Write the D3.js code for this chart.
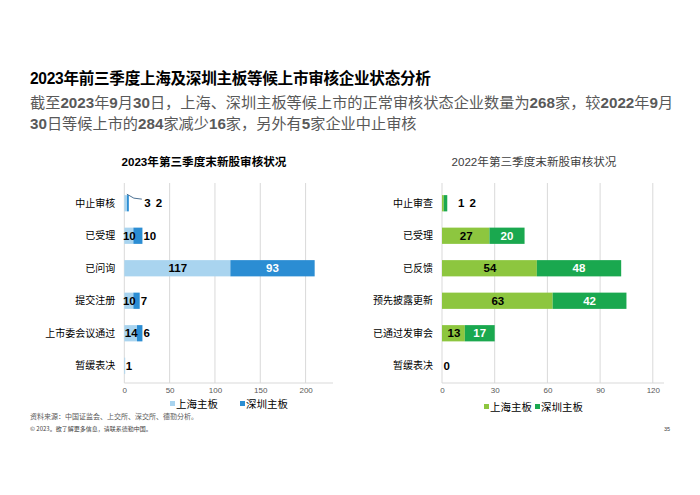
<!DOCTYPE html>
<html><head><meta charset="utf-8">
<script src="https://cdn.jsdelivr.net/npm/d3@7"></script>
<style>
html,body{margin:0;padding:0;background:#fff;}
svg text{font-family:"Liberation Sans","Noto Sans CJK SC",sans-serif;}
</style></head>
<body>
<svg id="chart" width="700" height="495"></svg>
<script>
const title = "2023年前三季度上海及深圳主板等候上市审核企业状态分析";
const subtitleLines = [
  [["截至",0],["2023",1],["年",0],["9",1],["月",0],["30",1],["日，上海、深圳主板等候上市的正常审核状态企业数量为",0],["268",1],["家，较",0],["2022",1],["年",0],["9",1],["月",0]],
  [["30",1],["日等候上市的",0],["284",1],["家减少",0],["16",1],["家，另外有",0],["5",1],["家企业中止审核",0]]
];
const seriesNames = ["上海主板","深圳主板"];

const chartTitle2023 = "2023年第三季度末新股审核状况";
const cats2023 = ["中止审核","已受理","已问询","提交注册","上市委会议通过","暂缓表决"];
const sh2023 = [3,10,117,10,14,1];
const sz2023 = [2,10,93,7,6,0];
const ticks2023 = [0,50,100,150,200];

const chartTitle2022 = "2022年第三季度末新股审核状况";
const cats2022 = ["中止审查","已受理","已反馈","预先披露更新","已通过发审会","暂缓表决"];
const sh2022 = [1,27,54,63,13,0];
const sz2022 = [2,20,48,42,17,0];
const ticks2022 = [0,30,60,90,120];

const source = "资料来源：中国证监会、上交所、深交所、德勤分析。";
const copyright = "© 2023。欲了解更多信息，请联系德勤中国。";
const pageNo = "35";

const svg = d3.select("#chart");
const cjk = '"Noto Sans CJK SC",sans-serif';

svg.append("text").attr("x",30).attr("y",84).attr("font-size",15.6).attr("font-weight","bold")
  .attr("fill","#000").attr("letter-spacing",-0.3).text(title);

subtitleLines.forEach((line,i)=>{
  let cx = 30;
  const yy = 108+i*21;
  line.forEach(([s,b])=>{
    const t = svg.append("text").attr("x",cx).attr("y",yy).attr("font-size",15.2)
      .attr("fill","#595959").attr("font-weight",b?"bold":"normal")
      .style("font-family", b?'"Liberation Sans",sans-serif':cjk).text(s);
    cx += t.node().getComputedTextLength();
  });
});

function drawChart(cfg){
  const {x0,x1,axisEnd,top,bottom,bandTop,bandBottom,cats,sh,sz,ticks,cLight,cDark,ttl,ttlX,ttlBold,ttlColor,legend,leader,smallOff} = cfg;
  const g = svg.append("g");
  const x = d3.scaleLinear().domain([0,ticks[ticks.length-1]]).range([x0,x1]);
  const y = d3.scaleBand().domain(cats).range([bandTop,bandBottom]).paddingInner(0.5).paddingOuter(0.25);

  g.append("text").attr("x",ttlX).attr("y",166).attr("text-anchor","middle").attr("font-size",11.6)
   .attr("font-weight",ttlBold?"bold":"normal").attr("fill",ttlColor).text(ttl);

  g.selectAll("line.grid").data(ticks).join("line").attr("class","grid")
    .attr("x1",d=>x(d)).attr("x2",d=>x(d)).attr("y1",top).attr("y2",bottom)
    .attr("stroke","#d9d9d9").attr("stroke-width",1);
  g.append("line").attr("x1",x0).attr("x2",axisEnd).attr("y1",bottom).attr("y2",bottom)
    .attr("stroke","#d9d9d9");

  const axis = d3.axisBottom(x).tickValues(ticks).tickSize(0).tickPadding(4);
  const ax = g.append("g").attr("transform",`translate(0,${bottom})`).call(axis);
  ax.select(".domain").remove();
  ax.selectAll("text").attr("font-size",8).attr("fill","#595959").style("font-family",'"Liberation Sans",sans-serif');

  g.selectAll("text.cat").data(cats).join("text").attr("class","cat")
    .attr("x",x0-9).attr("y",d=>y(d)+y.bandwidth()/2).attr("dy","0.35em")
    .attr("text-anchor","end").attr("font-size",10).attr("fill","#000").style("font-family",cjk).text(d=>d);

  const rows = cats.map((c,i)=>({c,a:sh[i],b:sz[i]}));
  g.selectAll("rect.a").data(rows).join("rect").attr("class","a")
    .attr("x",x(0)).attr("y",d=>y(d.c)).attr("height",y.bandwidth())
    .attr("width",d=>x(d.a)-x(0)).attr("fill",cLight);
  g.selectAll("rect.b").data(rows).join("rect").attr("class","b")
    .attr("x",d=>x(d.a)).attr("y",d=>y(d.c)).attr("height",y.bandwidth())
    .attr("width",d=>x(d.a+d.b)-x(d.a)).attr("fill",cDark);

  const lab = (xx,yy,txt,fill,anchor)=>g.append("text").attr("x",xx).attr("y",yy).attr("dy","0.36em")
    .attr("text-anchor",anchor).attr("font-size",11.5).attr("font-weight","bold").attr("fill",fill)
    .style("font-family",'"Liberation Sans",sans-serif').text(txt);

  rows.forEach((d,i)=>{
    const cy = y(d.c)+y.bandwidth()/2;
    const end = x(d.a+d.b);
    if (i===0){
      if (leader){
        g.append("path").attr("d",`M${end-2},${y(d.c)-1} L${end+5},${y(d.c)+3} L${end+13},${y(d.c)+4}`)
          .attr("fill","none").attr("stroke","#1f4e79").attr("stroke-width",0.8);
      }
      lab(end+smallOff, cy, d.a, "#000","middle");
      lab(end+smallOff+11.5, cy, d.b, "#000","middle");
      return;
    }
    if (d.a+d.b<=1){
      lab(x(0)+1.5, cy, d.a+d.b, "#000","start");
      return;
    }
    lab((x(0)+x(d.a))/2+0.5, cy, d.a, "#000","middle");
    const wb = x(d.a+d.b)-x(d.a);
    if (wb>=20) lab((x(d.a)+end)/2, cy, d.b, "#fff","middle");
    else lab(end+1, cy, d.b, "#000","start");
  });

  legend.forEach((lx,i)=>{
    g.append("rect").attr("x",lx).attr("y",cfg.legY-3).attr("width",5).attr("height",5)
      .attr("fill",i===0?cLight:cDark);
    g.append("text").attr("x",lx+6).attr("y",cfg.legY).attr("dy","0.35em").attr("font-size",10.5)
      .attr("fill","#000").style("font-family",cjk).text(seriesNames[i]);
  });
}

drawChart({x0:124.3,x1:305.6,axisEnd:333,top:183,bottom:383,bandTop:187,bandBottom:382,
  cats:cats2023,sh:sh2023,sz:sz2023,ticks:ticks2023,cLight:"#a9d4ef",cDark:"#2b8dd3",
  ttl:chartTitle2023,ttlX:204,ttlBold:true,ttlColor:"#000",legend:[170,240],legY:404,leader:true,smallOff:18.5});

drawChart({x0:442,x1:652.8,axisEnd:664,top:183,bottom:383,bandTop:187,bandBottom:382,
  cats:cats2022,sh:sh2022,sz:sz2022,ticks:ticks2022,cLight:"#8dc63f",cDark:"#1aa84f",
  ttl:chartTitle2022,ttlX:534,ttlBold:false,ttlColor:"#404040",legend:[484,535],legY:407,leader:false,smallOff:14});

svg.append("text").attr("x",30).attr("y",419).attr("font-size",7).attr("fill","#595959").style("font-family",cjk).text(source);
svg.append("text").attr("x",30).attr("y",431).attr("font-size",6).attr("fill","#404040").style("font-family",cjk).text(copyright);
svg.append("text").attr("x",670).attr("y",431).attr("text-anchor","end").attr("font-size",5.5).attr("fill","#404040").text(pageNo);
</script>
</body></html>
